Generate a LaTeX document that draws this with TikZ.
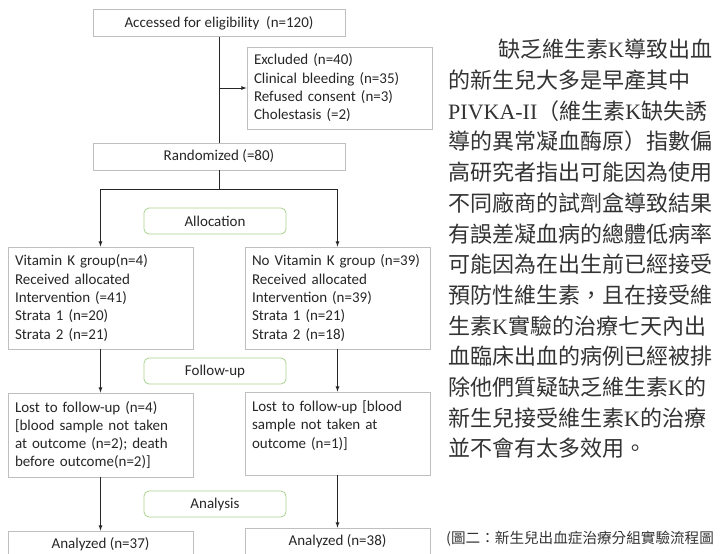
\documentclass[tikz,border=0pt]{standalone}
\usepackage{fontspec}
\setmainfont{Carlito}
\newfontfamily\zhfont{Noto Sans CJK TC}
\newfontfamily\serfont{Liberation Serif}
\usetikzlibrary{positioning}

\definecolor{boxline}{HTML}{BFBFBF}
\definecolor{stageline}{HTML}{A9D18E}
\definecolor{inktext}{HTML}{262626}

\newcommand{\lk}{{\serfont K}}
\newcommand{\pivka}{{\serfont PIVKA-II}}
\newcommand{\zhjust}{\XeTeXlinebreaklocale "zh"\XeTeXlinebreakskip=0pt plus 1fil\relax}

\begin{document}
\begin{tikzpicture}[x=1pt,y=-1pt,
	font=\fontsize{15}{18.3}\selectfont, text=inktext,
	box/.style={draw=boxline, line width=0.8pt, inner xsep=7pt, inner ysep=2pt},
	listbox/.style={box, text width=171pt, align=left, minimum height=#1},
	titlebox/.style={box, minimum width=252pt, minimum height=27pt},
	endbox/.style={box, minimum width=185pt, minimum height=26pt},
	stage/.style={draw=stageline, line width=0.8pt, rounded corners=5pt, minimum width=142pt, minimum height=26pt},
	link/.style={line width=0.8pt, black!85},
	arr/.style={link, -latex},
	zhline/.style={font=\zhfont\fontsize{22}{26}\selectfont\zhjust, text=black!80, inner sep=0pt, anchor=west}]

			\useasboundingbox (0,0) rectangle (723,554);

			% flow chart
			\node[titlebox] (access) at (219,23) {Accessed for eligibility\ \ (n=120)};
			\node[listbox=82pt] (excl) at (339.5,88) {Excluded (n=40)\\Clinical bleeding (n=35)\\Refused consent (n=3)\\Cholestasis (=2)};
			\node[titlebox] (rand) at (219,156.5) {Randomized (=80)};

			\node[stage] (alloc) at (215,221) {Allocation};
			\node[listbox=102pt] (vitk) at (100.5,298) {Vitamin K group(n=4)\\Received allocated\\Intervention (=41)\\Strata 1 (n=20)\\Strata 2 (n=21)};
			\node[listbox=102pt] (novitk) at (337.5,298) {No Vitamin K group (n=39)\\Received allocated\\Intervention (n=39)\\Strata 1 (n=21)\\Strata 2 (n=18)};

			\node[stage] (follow) at (215,371) {Follow-up};
			\node[listbox=84pt] (lostl) at (100.5,435) {Lost to follow-up (n=4)\\{}[blood sample not taken\\at outcome (n=2); death\\before outcome(n=2)]};
			\node[listbox=83pt] (lostr) at (337.5,433.5) {Lost to follow-up [blood\\sample not taken at\\outcome (n=1)]\\\mbox{}};

			\node[stage] (anal) at (215,504) {Analysis};
			\node[endbox] (anl) at (100.5,544) {Analyzed (n=37)};
			\node[endbox] (anr) at (337.5,541) {Analyzed (n=38)};

			\coordinate (splitl) at (100.5,189);
			\coordinate (split) at (219,189);
			\coordinate (splitr) at (337.5,189);

			\draw [link] (access) -- (rand);
			\draw [arr] (access.south |- excl.west) -- (excl.west);
			\draw [link] (rand) -- (split);
			\draw [link] (splitl) -- (splitr);
			\draw [arr] (splitl) -- (vitk);
			\draw [arr] (splitr) -- (novitk);
			\draw [arr] (vitk) -- (lostl);
			\draw [arr] (novitk) -- (lostr);
			\draw [arr] (lostl) -- (anl);
			\draw [arr] (lostr) -- (anr);

			% text beside the chart
			\foreach \zl [count=\i] in {\hspace*{50pt}缺乏維生素\lk 導致出血, 的新生兒大多是早產其中, \pivka（維生素\lk 缺失誘, 導的異常凝血酶原）指數偏, 高研究者指出可能因為使用, 不同廠商的試劑盒導致結果, 有誤差凝血病的總體低病率, 可能因為在出生前已經接受, 預防性維生素，且在接受維, 生素\lk 實驗的治療七天內出, 血臨床出血的病例已經被排, 除他們質疑缺乏維生素\lk 的, 新生兒接受維生素\lk 的治療} {
				\node [zhline] (p\i) at (448,{49.5+30.7*(\i-1)}) {\makebox[270pt][s]{\zl}};
			}
			\node [zhline] (p14) at (448,448.6) {並不會有太多效用。};
			\node [zhline, font=\zhfont\fontsize{14.6}{18}\selectfont] (cap) at (446,539) {(圖二：新生兒出血症治療分組實驗流程圖};
		\end{tikzpicture}
\end{document}
